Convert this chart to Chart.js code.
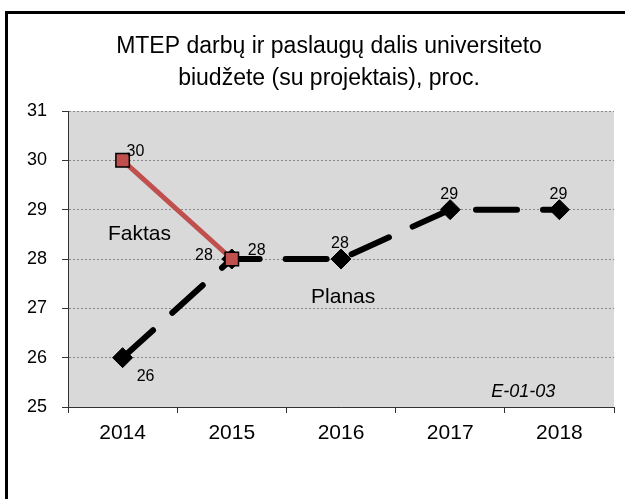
<!DOCTYPE html>
<html lang="lt">
<head>
<meta charset="UTF-8">
<title>MTEP darbų ir paslaugų dalis</title>
<script src="https://cdn.jsdelivr.net/npm/chart.js"></script>
<style>
    html, body { margin: 0; padding: 0; background: #fff; overflow: hidden; }
    .wrap { width: 625px; height: 499px; position: relative; }
</style>
</head>
<body>
<div class="wrap"><canvas id="chart"></canvas></div>
<script>
// data
const years = ['2014', '2015', '2016', '2017', '2018'];
const faktas = [30, 28, null, null, null];
const planas = [26, 28, 28, 29, 29];
const yTicks = [25, 26, 27, 28, 29, 30, 31];
const titleLines = ['MTEP darbų ir paslaugų dalis universiteto', 'biudžete (su projektais), proc.'];

// where each value label sits relative to its point
const faktasLabelPos = ['rightUp', 'left', null, null, null];
const planasLabelPos = ['belowRight', 'rightUp2', 'above', 'above', 'above'];

const labelOffsets = {
    rightUp:    { dx: 4,   dy: -9,  align: 'left' },
    left:       { dx: -19, dy: -3,  align: 'right' },
    rightUp2:   { dx: 16,  dy: -8,  align: 'left' },
    above:      { dx: -1,  dy: -15, align: 'center' },
    belowRight: { dx: 23,  dy: 19,  align: 'center' }
};

// free text on the plot, in axis units
const notes = [
    { text: 'Faktas', x: 0.155, y: 28.5, font: '21px "Liberation Sans", Arial, sans-serif' },
    { text: 'Planas', x: 2.02, y: 27.23, font: '21px "Liberation Sans", Arial, sans-serif' },
    { text: 'E-01-03', x: 3.67, y: 25.3, font: 'italic 18px "Liberation Sans", Arial, sans-serif' }
];

const frame = {
    id: 'frame',
    beforeDraw(chart) {
        const ctx = chart.ctx, a = chart.chartArea;
        ctx.save();
        ctx.fillStyle = '#d9d9d9';
        ctx.fillRect(a.left, a.top, a.right - a.left, a.bottom - a.top);
        ctx.strokeStyle = '#000';
        ctx.lineWidth = 3;
        ctx.strokeRect(6.5, 12.5, 700, 600);
        // title, centred a bit right of the canvas like the original
        ctx.fillStyle = '#000';
        ctx.font = '23px "Liberation Sans", Arial, sans-serif';
        ctx.textAlign = 'center';
        ctx.textBaseline = 'alphabetic';
        ctx.fillText(titleLines[0], 329, 53);
        ctx.fillText(titleLines[1], 329, 85);
        ctx.restore();
    }
};

const labels = {
    id: 'labels',
    afterDatasetsDraw(chart) {
        const ctx = chart.ctx;
        const xs = chart.scales.x, ys = chart.scales.y;
        const sets = [[faktas, faktasLabelPos], [planas, planasLabelPos]];
        ctx.save();
        ctx.fillStyle = '#000';
        ctx.textBaseline = 'middle';
        ctx.font = '16px "Liberation Sans", Arial, sans-serif';
        sets.forEach(([vals, pos]) => {
            vals.forEach((v, i) => {
                if (v === null || !pos[i]) return;
                const o = labelOffsets[pos[i]];
                ctx.textAlign = o.align;
                ctx.fillText(String(v), xs.getPixelForValue(i) + o.dx, ys.getPixelForValue(v) + o.dy);
            });
        });
        ctx.textAlign = 'center';
        notes.forEach(n => {
            ctx.font = n.font;
            ctx.fillText(n.text, xs.getPixelForValue(n.x), ys.getPixelForValue(n.y));
        });
        ctx.restore();
    }
};

new Chart(document.getElementById('chart'), {
    type: 'line',
    data: {
        labels: years,
        datasets: [{
            label: 'Faktas',
            data: faktas,
            borderColor: '#c0504d',
            borderWidth: 5,
            pointStyle: 'rect',
            pointRadius: 9.5,
            pointBackgroundColor: '#c0504d',
            pointBorderColor: '#000',
            pointBorderWidth: 1.5,
            tension: 0
        }, {
            label: 'Planas',
            data: planas,
            borderColor: '#000',
            borderWidth: 6,
            borderDash: [41, 26],
            borderCapStyle: 'round',
            pointStyle: 'rectRot',
            pointRadius: 10,
            pointBackgroundColor: '#000',
            pointBorderColor: '#000',
            pointBorderWidth: 1,
            tension: 0
        }]
    },
    options: {
        responsive: true,
        maintainAspectRatio: false,
        animation: false,
        layout: { padding: { left: 10, right: 9, top: 111, bottom: 46 } },
        plugins: {
            legend: { display: false },
            tooltip: { enabled: false },
            title: { display: false }
        },
        scales: {
            x: {
                offset: true,
                grid: { offset: true, drawOnChartArea: false, tickLength: 6, color: '#333' },
                border: { color: '#333', width: 1 },
                ticks: { color: '#000', padding: 8, font: { family: '"Liberation Sans", Arial, sans-serif', size: 21 } },
                afterFit(s) { s.height = 46; }
            },
            y: {
                min: 25,
                max: 31,
                afterBuildTicks(s) { s.ticks = yTicks.map(v => ({ value: v })); },
                grid: { color: '#8a8a8a', tickColor: '#333', tickLength: 6, lineWidth: 1 },
                border: { color: '#333', width: 1, dash: [2, 2] },
                ticks: { color: '#000', padding: 15, font: { family: '"Liberation Sans", Arial, sans-serif', size: 18 } },
                afterFit(s) { s.width = 58; }
            }
        }
    },
    plugins: [frame, labels]
});
</script>
</body>
</html>
